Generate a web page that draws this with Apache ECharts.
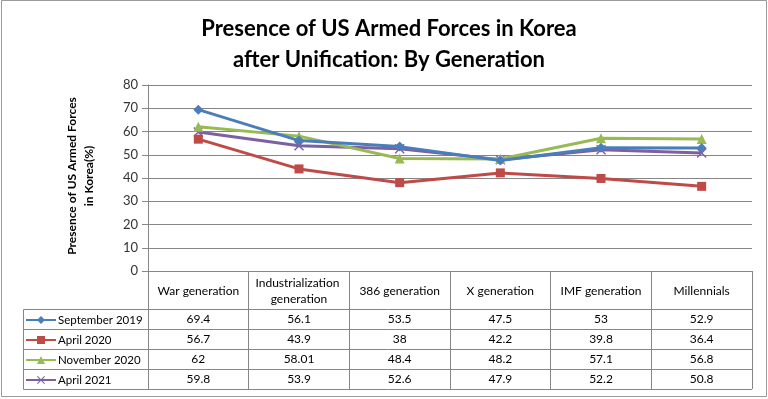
<!DOCTYPE html>
<html>
<head>
<meta charset="utf-8">
<script src="https://cdn.jsdelivr.net/npm/echarts@6/dist/echarts.min.js"></script>
<style>
    html, body { margin: 0; padding: 0; background: #fff; }
    #chart { width: 768px; height: 399px; }
</style>
</head>
<body>
<div id="chart"></div>
<script>
const categories = ["War generation", "Industrialization generation", "386 generation", "X generation", "IMF generation", "Millennials"];
const seriesNames = ["September 2019", "April 2020", "November 2020", "April 2021"];
const sep2019 = [69.4, 56.1, 53.5, 47.5, 53, 52.9];
const apr2020 = [56.7, 43.9, 38, 42.2, 39.8, 36.4];
const nov2020 = [62, 58.01, 48.4, 48.2, 57.1, 56.8];
const apr2021 = [59.8, 53.9, 52.6, 47.9, 52.2, 50.8];
const yTicks = [0, 10, 20, 30, 40, 50, 60, 70, 80];

const colors = ["#4A7EBB", "#BE4B48", "#98B954", "#7D60A0"];
const symbols = [
    "diamond",
    "rect",
    "triangle",
    "path://M0,1L1,0L5,4L9,0L10,1L6,5L10,9L9,10L5,6L1,10L0,9L4,5Z"
];
const symbolSizes = [10, 9, 10, 10];
const allValues = [sep2019, apr2020, nov2020, apr2021];
const font = "Lato, 'Noto Sans', sans-serif";

document.addEventListener("DOMContentLoaded", function () {
    const el = document.getElementById("chart");
    const chart = echarts.init(el);

    const gridLeft = 148, gridRight = 16, gridTop = 85, gridBottom = 128;
    const rowTop = 309.5, rowH = 20, tableLeft = 23.5;

    chart.setOption({
        animation: false,
        textStyle: { fontFamily: font },
        title: {
            text: "Presence of US Armed Forces in Korea\nafter Unification: By Generation",
            left: 384,
            textAlign: "center",
            top: 8,
            textStyle: { fontFamily: font, fontSize: 22, fontWeight: "bold", color: "#000", lineHeight: 31 }
        },
        legend: {
            orient: "vertical",
            left: 25,
            top: rowTop + 3.5,
            padding: 0,
            itemWidth: 30,
            itemHeight: 10,
            itemGap: 6,
            data: seriesNames,
            textStyle: { fontFamily: font, fontSize: 11.5, color: "#000", lineHeight: 14, padding: [0, 0, 0, -3] }
        },
        grid: { left: gridLeft, right: gridRight, top: gridTop, bottom: gridBottom },
        xAxis: {
            type: "category",
            data: categories,
            boundaryGap: true,
            axisLine: { lineStyle: { color: "#868686" } },
            axisTick: { show: true, length: 118, lineStyle: { color: "#868686" } },
            axisLabel: {
                interval: 0,
                margin: 20,
                verticalAlign: "middle",
                width: 96,
                overflow: "break",
                lineHeight: 16,
                fontFamily: font,
                fontSize: 12,
                color: "#000"
            }
        },
        yAxis: {
            type: "value",
            min: yTicks[0],
            max: yTicks[yTicks.length - 1],
            interval: 10,
            axisLine: { show: true, lineStyle: { color: "#868686" } },
            axisTick: { show: true, length: 6, lineStyle: { color: "#868686" } },
            axisLabel: { fontFamily: font, fontSize: 13, color: "#333", margin: 10 },
            splitLine: { lineStyle: { color: "#868686" } }
        },
        series: seriesNames.map((name, i) => ({
            name: name,
            type: "line",
            data: allValues[i],
            symbol: symbols[i],
            symbolSize: symbolSizes[i],
            showAllSymbol: true,
            lineStyle: { color: colors[i], width: 3 },
            itemStyle: { color: colors[i] },
            z: 10 - i
        }))
    });

    // data table below the plot
    const graphics = [];
    const xRight = 768 - gridRight;
    for (let r = 0; r <= seriesNames.length; r++) {
        const y = rowTop + r * rowH;
        graphics.push({
            type: "line",
            shape: { x1: tableLeft, y1: y, x2: xRight, y2: y },
            style: { stroke: "#868686", lineWidth: 1 }
        });
    }
    graphics.push({
        type: "line",
        shape: { x1: tableLeft, y1: rowTop, x2: tableLeft, y2: rowTop + seriesNames.length * rowH },
        style: { stroke: "#868686", lineWidth: 1 }
    });

    allValues.forEach((vals, r) => {
        vals.forEach((v, c) => {
            const x = chart.convertToPixel({ xAxisIndex: 0 }, c);
            graphics.push({
                type: "text",
                x: x,
                y: rowTop + r * rowH + rowH / 2,
                style: {
                    text: String(v),
                    align: "center",
                    verticalAlign: "middle",
                    fontFamily: font,
                    fontSize: 12,
                    fill: "#000"
                }
            });
        });
    });

    // y axis title
    graphics.push({
        type: "text",
        x: 81,
        y: 176,
        rotation: Math.PI / 2,
        style: {
            text: "Presence of US Armed Forces\nin Korea(%)",
            align: "center",
            verticalAlign: "middle",
            fontFamily: font,
            fontSize: 12,
            fontWeight: "bold",
            lineHeight: 17,
            fill: "#000"
        }
    });

    // outer frame
    graphics.push({
        type: "rect",
        shape: { x: 1.5, y: 0.5, width: 765, height: 396 },
        style: { fill: null, stroke: "#9a9a9a", lineWidth: 1 },
        silent: true
    });

    chart.setOption({ graphic: graphics });
});
</script>
</body>
</html>
